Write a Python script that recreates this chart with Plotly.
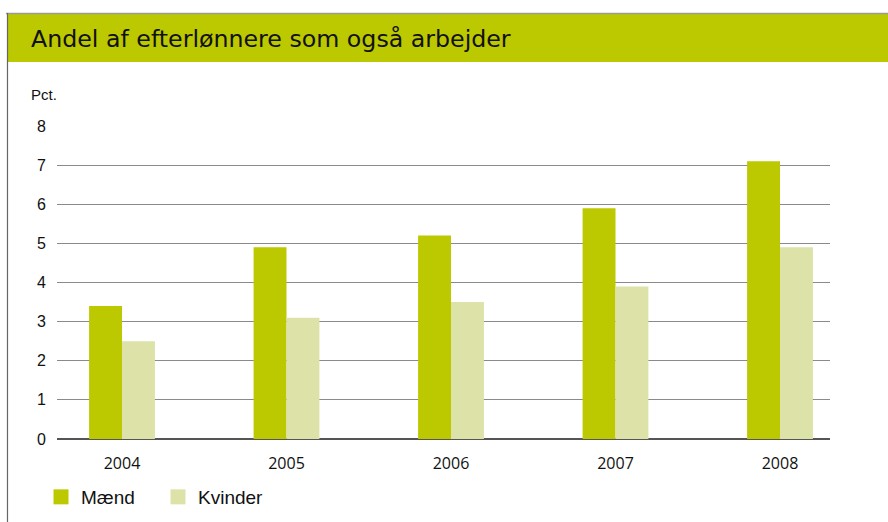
import plotly.graph_objects as go

years = [2004, 2005, 2006, 2007, 2008]
maend = [3.4, 4.9, 5.2, 5.9, 7.1]
kvinder = [2.5, 3.1, 3.5, 3.9, 4.9]
series_names = ["Mænd", "Kvinder"]
title_text = "Andel af efterlønnere som også arbejder"
y_unit = "Pct."
y_ticks = [0, 1, 2, 3, 4, 5, 6, 7, 8]

W, H = 888, 522
L, R, T, B = 57, 830, 126, 439  # plot area in px
pw, ph = R - L, B - T

def px(x):
    return (x - L) / pw

def py(y):
    return (B - y) / ph

green = "#BCC800"
light = "#DDE3A8"

fig = go.Figure()
fig.add_trace(go.Bar(x=years, y=maend, name=series_names[0], marker_color=green,
                     marker_line_width=0, showlegend=False, legendgroup="m"))
fig.add_trace(go.Bar(x=years, y=kvinder, name=series_names[1], marker_color=light,
                     marker_line_width=0, showlegend=False, legendgroup="k"))
# legend entries with larger square swatches
fig.add_trace(go.Scatter(x=[None], y=[None], mode="markers", name=series_names[0],
                         marker=dict(symbol="square", size=15, color=green, line_width=0),
                         legendgroup="m"))
fig.add_trace(go.Scatter(x=[None], y=[None], mode="markers", name=series_names[1],
                         marker=dict(symbol="square", size=15, color=light, line_width=0),
                         legendgroup="k"))

step = (780 - 122) / 4
x0 = years[0] - (122 - L) / step
x1 = years[-1] + (R - 780) / step

fig.update_layout(
    width=W, height=H,
    margin=dict(l=L, r=W - R, t=T, b=H - B, pad=0, autoexpand=False),
    paper_bgcolor="white", plot_bgcolor="white",
    barmode="group", bargap=0.6, bargroupgap=0,
    font=dict(family="Liberation Sans, Arial, sans-serif", color="#111"),
    xaxis=dict(range=[x0, x1], tickvals=years, ticktext=[str(y) for y in years],
               showgrid=False, zeroline=False, showline=False,
               ticks="outside", ticklen=10, tickcolor="rgba(0,0,0,0)",
               tickfont=dict(size=16, family="Open Sans, Liberation Sans, sans-serif", color="#111"),
               fixedrange=True),
    yaxis=dict(range=[0, 8], tickvals=y_ticks, showgrid=True, gridcolor="#8a8a8a",
               gridwidth=1, zeroline=True, zerolinecolor="#555", zerolinewidth=1.5,
               showline=False, ticks="outside", ticklen=7, tickcolor="rgba(0,0,0,0)",
               tickfont=dict(size=16, color="#111"), fixedrange=True),
    legend=dict(orientation="h", xref="container", yref="container",
                x=41 / W, y=1 - 497 / H, xanchor="left", yanchor="middle",
                font=dict(size=19, color="#111"), entrywidth=72, entrywidthmode="pixels",
                bgcolor="rgba(0,0,0,0)"),
    showlegend=True,
)

shapes = [
    # title band
    dict(type="rect", xref="paper", yref="paper", x0=px(7), x1=px(900), y0=py(62), y1=py(14),
         fillcolor=green, line_width=0, layer="below"),
    # top border line
    dict(type="line", xref="paper", yref="paper", x0=px(6), x1=px(900), y0=py(13.5), y1=py(13.5),
         line=dict(color="#9a9a9a", width=1.5)),
    # left border line
    dict(type="line", xref="paper", yref="paper", x0=px(7.5), x1=px(7.5), y0=py(13), y1=py(530),
         line=dict(color="#666", width=1.2)),
]
fig.update_layout(shapes=shapes)

fig.add_annotation(text=title_text, xref="paper", yref="paper", x=px(29), y=py(39),
                   xanchor="left", yanchor="middle", showarrow=False,
                   font=dict(size=23.7, color="#111", family="DejaVu Sans, sans-serif"))
fig.add_annotation(text=y_unit, xref="paper", yref="paper", x=px(29), y=py(95),
                   xanchor="left", yanchor="middle", showarrow=False,
                   font=dict(size=15, color="#111"))

fig.write_html("out.html", config={"displayModeBar": False},
               post_script="document.body.style.margin='0';document.body.style.overflow='hidden';")
